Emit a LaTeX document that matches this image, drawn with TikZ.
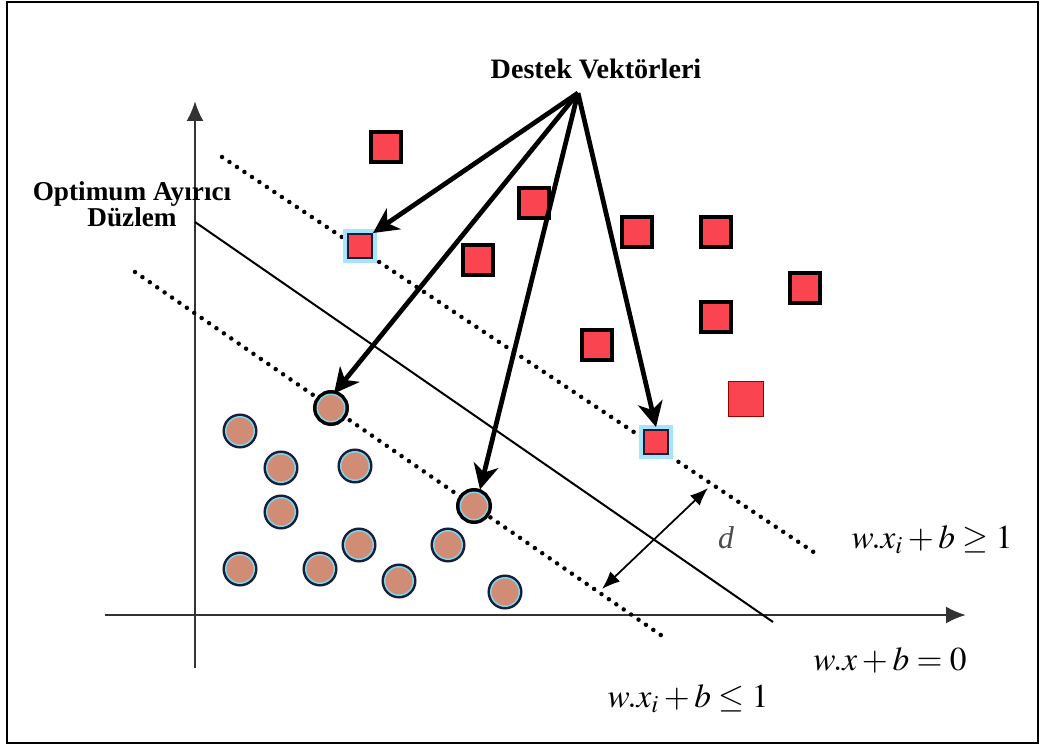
\documentclass[tikz,border=0pt]{standalone}
\usepackage{mathptmx}
\usepackage{fontspec}
\setmainfont{Liberation Serif}
\usetikzlibrary{arrows.meta}

\definecolor{sqred}{RGB}{250,68,80}
\definecolor{ptbrown}{RGB}{208,140,116}
\definecolor{ringnavy}{RGB}{22,30,58}
\definecolor{ringcyan}{RGB}{130,212,232}
\definecolor{glowcyan}{RGB}{165,228,250}

\tikzset{
  sqpt/.style={draw=black, line width=0.7mm, fill=sqred, minimum size=6mm, inner sep=0pt},
  sqbig/.style={draw=red!60!black, line width=0.25mm, fill=sqred, minimum size=7mm, inner sep=0pt},
  sqsv/.style={preaction={draw=glowcyan, line width=2mm}, draw=ringnavy, line width=0.4mm, fill=sqred, minimum size=4.8mm, inner sep=0pt},
  cpt/.style={circle, preaction={draw=ringnavy, line width=1.3mm}, draw=ringcyan, line width=0.3mm, fill=ptbrown, minimum size=5.7mm, inner sep=0pt},
  csv/.style={circle, preaction={draw=black, line width=1.7mm}, draw=ringcyan, line width=0.3mm, fill=ptbrown, minimum size=5.5mm, inner sep=0pt},
  margin/.style={line width=0.9mm, dash pattern=on 0pt off 1.8mm, line cap=round},
  svarrow/.style={line width=0.95mm, -{Stealth[length=5mm, width=5mm, inset=1.5mm]}},
  lbl/.style={font=\fontsize{19}{22}\selectfont},
}

\begin{document}
\begin{tikzpicture}[x=0.02cm, y=-0.02cm]
\useasboundingbox (0,0) rectangle (1041,747);
% Frame
\draw[line width=0.4mm] (7,2) rectangle (1038,743);

% Axes
\coordinate (xa0) at (105,615);
\coordinate (xa1) at (966,615);
\coordinate (ya0) at (195,668);
\coordinate (ya1) at (195,101);
\draw[line width=0.45mm, black!80, -{Latex[length=4mm, width=3.4mm]}] (xa0) -- (xa1);
\draw[line width=0.45mm, black!80, -{Latex[length=4mm, width=3.4mm]}] (ya0) -- (ya1);

% Hyperplane and margins
\coordinate (hp0) at (195,222);
\coordinate (hp1) at (773,622);
\coordinate (up0) at (222,157);
\coordinate (up1) at (815,553);
\coordinate (lo0) at (135,272);
\coordinate (lo1) at (668,640);
\draw[line width=0.4mm] (hp0) -- (hp1);
\draw[margin] (up0) -- (up1);
\draw[margin] (lo0) -- (lo1);

% Margin width
\coordinate (d0) at (708,488);
\coordinate (d1) at (602,589);
\draw[line width=0.35mm, {Latex[length=3.6mm, width=2.8mm]}-{Latex[length=3.6mm, width=2.8mm]}] (d1) -- (d0);
\node[font=\fontsize{18}{21}\selectfont\itshape, text=black!70] (lbld) at (726,538) {d};

% Class +1 (squares)
\foreach \name/\x/\y in {r1/386/147, r2/534/203, r3/478/260, r4/637/232,
                         r5/716/232, r6/805/288, r7/716/317, r8/597/345}{
  \node[sqpt] (\name) at (\x,\y) {};
}
\node[sqbig] (r9) at (746,399) {};
\node[sqsv] (sv1) at (360,246) {};
\node[sqsv] (sv2) at (656,442) {};

% Class -1 (circles)
\foreach \name/\x/\y in {c1/240/431, c2/281/468, c3/355/466, c4/281/512,
                         c5/240/569, c6/320/569, c7/359/545, c8/399/581,
                         c9/448/545, c10/505/592}{
  \node[cpt] (\name) at (\x,\y) {};
}
\node[csv] (cs1) at (331,408) {};
\node[csv] (cs2) at (474,506) {};

% Labels
\node[font=\fontsize{16}{19}\selectfont\bfseries] (destek) at (596,69) {Destek Vektörleri};
\coordinate (dv) at (578,93);
\node[font=\fontsize{15.5}{13.5}\selectfont\bfseries, align=center] (optd) at (132,204) {Optimum Ayırıcı\\Düzlem};
\node[lbl] (lblpos) at (932,540) {$w.x_i+b\geq 1$};
\node[lbl] (lblzero) at (890,660) {$w.x+b=0$};
\node[lbl] (lblneg) at (688,699) {$w.x_i+b\leq 1$};

% Support vector arrows
\draw[svarrow] (dv) -- (sv1.north east);
\draw[svarrow] (dv) -- ([shift={(3,0)}]cs1.north);
\draw[svarrow] (dv) -- ([shift={(6,-2)}]cs2.north);
\draw[svarrow] (dv) -- ([shift={(0,-2)}]sv2.north);
\end{tikzpicture}
\end{document}
